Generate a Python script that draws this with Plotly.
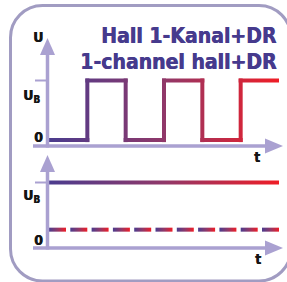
import plotly.graph_objects as go

# ---------------- data ----------------
t_edges = [0, 1, 2, 3, 4, 5, 6]                  # switching instants of the Hall output
hall_levels = [0.09, 1.0, 0.09, 1.0, 0.09, 1.0]   # output level per interval (units of U_B)
supply_t = [0, 6]
supply_level = [1.0, 1.0]                         # U_B line, lower panel
dr_t = [0, 6]
dr_level = [0.28, 0.28]                           # dashed line, lower panel
tick_values = [0, 1]
tick_labels = ["0", "U<sub>B</sub>"]
title_lines = ["Hall 1-Kanal+DR", "1-channel hall+DR"]
y_label = "U"
x_label = "t"

# ---------------- geometry / style ----------------
W, H = 287, 282
X0 = 49.0                 # pixel of t = 0
SX = 230.0 / 6.0          # pixels per time unit
SY = 65.5                 # pixels per U_B
TOP_BASE = 146.0          # pixel row of level 0, upper panel
BOT_BASE = 248.0          # pixel row of level 0, lower panel

AX = "#aaa1d1"
BORDER = "#a19cc2"
TITLE_C = "#463a8d"
GRAD = [[0.0, "#4b3c8e"], [0.5, "#903869"], [1.0, "#ef1d26"]]
LW = 4.0                  # signal thickness in px
hw = (LW / 2) / SX
hh = (LW / 2) / SY


def px2t(px):
    return (px - X0) / SX


def py2v(py, base):
    return (base - py) / SY


def pp(px, py):
    return px / W, 1 - py / H


fig = go.Figure()


def band(x0, x1, y0, y1, yaxis, start, stop):
    fig.add_trace(go.Scatter(
        x=[x0, x1, x1, x0, x0], y=[y0, y0, y1, y1, y0],
        mode="lines", line=dict(width=0), fill="toself",
        fillgradient=dict(type="horizontal", colorscale=GRAD, start=start, stop=stop),
        hoverinfo="skip", showlegend=False, yaxis=yaxis))


# upper panel: square wave
n = len(hall_levels)
for i in range(n):
    a = t_edges[i] - (hw if i > 0 else 0)
    b = t_edges[i + 1] + (hw if i < n - 1 else 0)
    band(a, b, hall_levels[i] - hh, hall_levels[i] + hh, "y2", t_edges[0], t_edges[-1])
for i in range(n - 1):
    lo = min(hall_levels[i], hall_levels[i + 1]) - hh
    hi = max(hall_levels[i], hall_levels[i + 1]) + hh
    band(t_edges[i + 1] - hw, t_edges[i + 1] + hw, lo, hi, "y2", t_edges[0], t_edges[-1])

# lower panel: solid U_B line
band(supply_t[0], supply_t[1], supply_level[0] - hh, supply_level[0] + hh, "y",
     supply_t[0], supply_t[1])

# lower panel: dashed line, each dash with its own gradient
ndash = 11
dlen = 17.0 / SX
period = (dr_t[1] - dr_t[0] - dlen) / (ndash - 1)
for k in range(ndash):
    a = dr_t[0] + k * period
    band(a, a + dlen, dr_level[0] - hh, dr_level[0] + hh, "y", a, a + dlen)

shapes = []
ax_x = px2t(47.5)


def axes(base, yref, tip_py):
    # y shaft
    shapes.append(dict(type="line", xref="x", yref=yref, x0=ax_x, x1=ax_x,
                       y0=py2v(base + 1.5, base), y1=py2v(tip_py + 14, base),
                       line=dict(color=AX, width=3.5)))
    # y arrowhead
    tx, ty = ax_x, py2v(tip_py, base)
    bl, br = px2t(47.5 - 7.5), px2t(47.5 + 7.5)
    by = py2v(tip_py + 17, base)
    shapes.append(dict(type="path", xref="x", yref=yref,
                       path=f"M {bl},{by} L {tx},{ty} L {br},{by} Z",
                       fillcolor=AX, line=dict(width=0)))
    # x shaft
    shapes.append(dict(type="line", xref="x", yref=yref, x0=px2t(33), x1=px2t(268),
                       y0=0, y1=0, line=dict(color=AX, width=3.5)))
    # x arrowhead
    hx = px2t(283)
    bx = px2t(265)
    u, d = py2v(base - 7.5, base), py2v(base + 7.5, base)
    shapes.append(dict(type="path", xref="x", yref=yref,
                       path=f"M {bx},{u} L {hx},0 L {bx},{d} Z",
                       fillcolor=AX, line=dict(width=0)))
    # U_B tick
    shapes.append(dict(type="line", xref="x", yref=yref, x0=px2t(35), x1=ax_x,
                       y0=tick_values[1], y1=tick_values[1],
                       line=dict(color=AX, width=2)))


axes(TOP_BASE, "y2", 38)
axes(BOT_BASE, "y", 155)

# rounded border
L_, T_, R_, B_, r = 10.5, 5.5, 291.0, 281.0, 32.0
kk = 0.5523 * r


def P(px, py):
    x, y = pp(px, py)
    return f"{x:.5f},{y:.5f}"


border = (f"M {P(L_, T_ + r)} C {P(L_, T_ + r - kk)} {P(L_ + r - kk, T_)} {P(L_ + r, T_)} "
          f"L {P(R_ - r, T_)} C {P(R_ - r + kk, T_)} {P(R_, T_ + r - kk)} {P(R_, T_ + r)} "
          f"L {P(R_, B_ - r)} C {P(R_, B_ - r + kk)} {P(R_ - r + kk, B_)} {P(R_ - r, B_)} "
          f"L {P(L_ + r, B_)} C {P(L_ + r - kk, B_)} {P(L_, B_ - r + kk)} {P(L_, B_ - r)} Z")
shapes.append(dict(type="path", xref="paper", yref="paper", path=border,
                   line=dict(color=BORDER, width=3)))

ann = []
LBL = dict(family="DejaVu Sans Condensed, DejaVu Sans, Arial", size=14, color="#151515",
           weight="bold", shadow="0.4px 0 0 #151515")


def label(text, px, py, xanchor="center", font=LBL):
    x, y = pp(px, py)
    ann.append(dict(text=text, x=x, y=y, xref="paper", yref="paper", showarrow=False,
                    xanchor=xanchor, yanchor="middle", font=font))


TF = dict(family="DejaVu Sans Condensed, DejaVu Sans, Arial", size=21, color=TITLE_C,
          weight="bold", shadow=f"0.6px 0 0 {TITLE_C}")
label(title_lines[0], 278.5, 35.5, "right", TF)
label(title_lines[1], 278.5, 62.5, "right", TF)

label(y_label, 37.5, 37)
label(tick_labels[1], 31.5, 96)
label(tick_labels[0], 38, 137)
label(x_label, 257, 157)
label(tick_labels[1], 31.5, 196)
label(tick_labels[0], 38, 240)
label(x_label, 258, 259)

fig.update_layout(
    width=W, height=H, autosize=False,
    margin=dict(l=0, r=0, t=0, b=0, pad=0),
    paper_bgcolor="white", plot_bgcolor="white",
    xaxis=dict(range=[px2t(0), px2t(W)], visible=False, fixedrange=True),
    yaxis=dict(range=[py2v(H, BOT_BASE), py2v(0, BOT_BASE)], visible=False,
               fixedrange=True, domain=[0, 1]),
    yaxis2=dict(range=[py2v(H, TOP_BASE), py2v(0, TOP_BASE)], visible=False,
                fixedrange=True, overlaying="y", anchor="x"),
    shapes=shapes, annotations=ann, showlegend=False,
)

fig.write_html("out.html", config=dict(displayModeBar=False, staticPlot=True),
               post_script="document.body.style.margin='0';document.body.style.overflow='hidden';")
